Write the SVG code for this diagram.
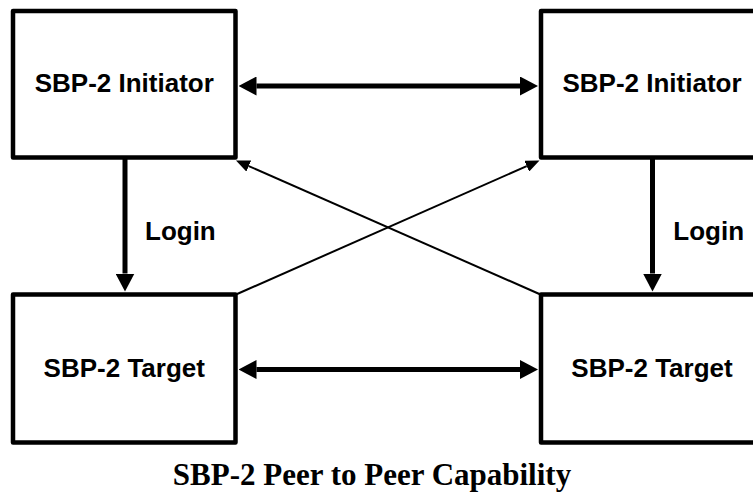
<svg xmlns="http://www.w3.org/2000/svg" width="753" height="496" viewBox="0 0 753 496">
  <style>
    .box { fill: #ffffff; stroke: #000000; stroke-width: 4.5; stroke-linejoin: round; }
    .lbl { font-family: "Liberation Sans", Arial, sans-serif; font-weight: bold; font-size: 26px; fill: #000000; text-anchor: middle; }
    .login { font-family: "Liberation Sans", Arial, sans-serif; font-weight: bold; font-size: 26px; fill: #000000; }
    .title { font-family: "Liberation Serif", "Times New Roman", serif; font-weight: bold; font-size: 31px; fill: #000000; text-anchor: middle; }
    .thick { stroke: #000000; stroke-width: 5; fill: none; }
    .thin { stroke: #000000; stroke-width: 2; fill: none; }
  </style>
  <defs>
    <marker id="bigHead" markerUnits="userSpaceOnUse" markerWidth="18" markerHeight="19" refX="0" refY="9.5" orient="auto-start-reverse" viewBox="0 0 18 19">
      <path d="M0,0 L18,9.5 L0,19 Z" fill="#000000"/>
    </marker>
    <marker id="smallHead" markerUnits="userSpaceOnUse" markerWidth="14" markerHeight="12" refX="0" refY="6" orient="auto" viewBox="0 0 14 12">
      <path d="M0,0 L14,6 L0,12 Z" fill="#000000"/>
    </marker>
  </defs>
  <rect width="753" height="496" fill="#ffffff"/>

  <g id="connectors">
    <line class="thick" x1="256.5" y1="86" x2="520" y2="86" marker-start="url(#bigHead)" marker-end="url(#bigHead)"/>
    <line class="thick" x1="256.5" y1="369.5" x2="520" y2="369.5" marker-start="url(#bigHead)" marker-end="url(#bigHead)"/>
    <line class="thick" x1="125" y1="157.5" x2="125" y2="273.5" marker-end="url(#bigHead)"/>
    <line class="thick" x1="652.5" y1="157.5" x2="652.5" y2="273.5" marker-end="url(#bigHead)"/>
    <line class="thin" x1="236" y1="294.5" x2="526.7" y2="166.15" marker-end="url(#smallHead)"/>
    <line class="thin" x1="540.5" y1="294.5" x2="248.8" y2="166.1" marker-end="url(#smallHead)"/>
  </g>

  <g id="initiator-left">
    <rect class="box" x="13" y="11" width="222.5" height="146.5"/>
    <text class="lbl" x="124.25" y="92">SBP-2 Initiator</text>
  </g>
  <g id="initiator-right">
    <rect class="box" x="541" y="11" width="223" height="146.5"/>
    <text class="lbl" x="652" y="92">SBP-2 Initiator</text>
  </g>
  <g id="target-left">
    <rect class="box" x="13" y="294.5" width="222.5" height="148"/>
    <text class="lbl" x="124.25" y="377">SBP-2 Target</text>
  </g>
  <g id="target-right">
    <rect class="box" x="541" y="294.5" width="223" height="148"/>
    <text class="lbl" x="652" y="377">SBP-2 Target</text>
  </g>

  <g id="labels">
    <text class="login" x="145" y="240">Login</text>
    <text class="login" x="673.3" y="240">Login</text>
    <text class="title" x="372" y="485">SBP-2 Peer to Peer Capability</text>
  </g>
</svg>
